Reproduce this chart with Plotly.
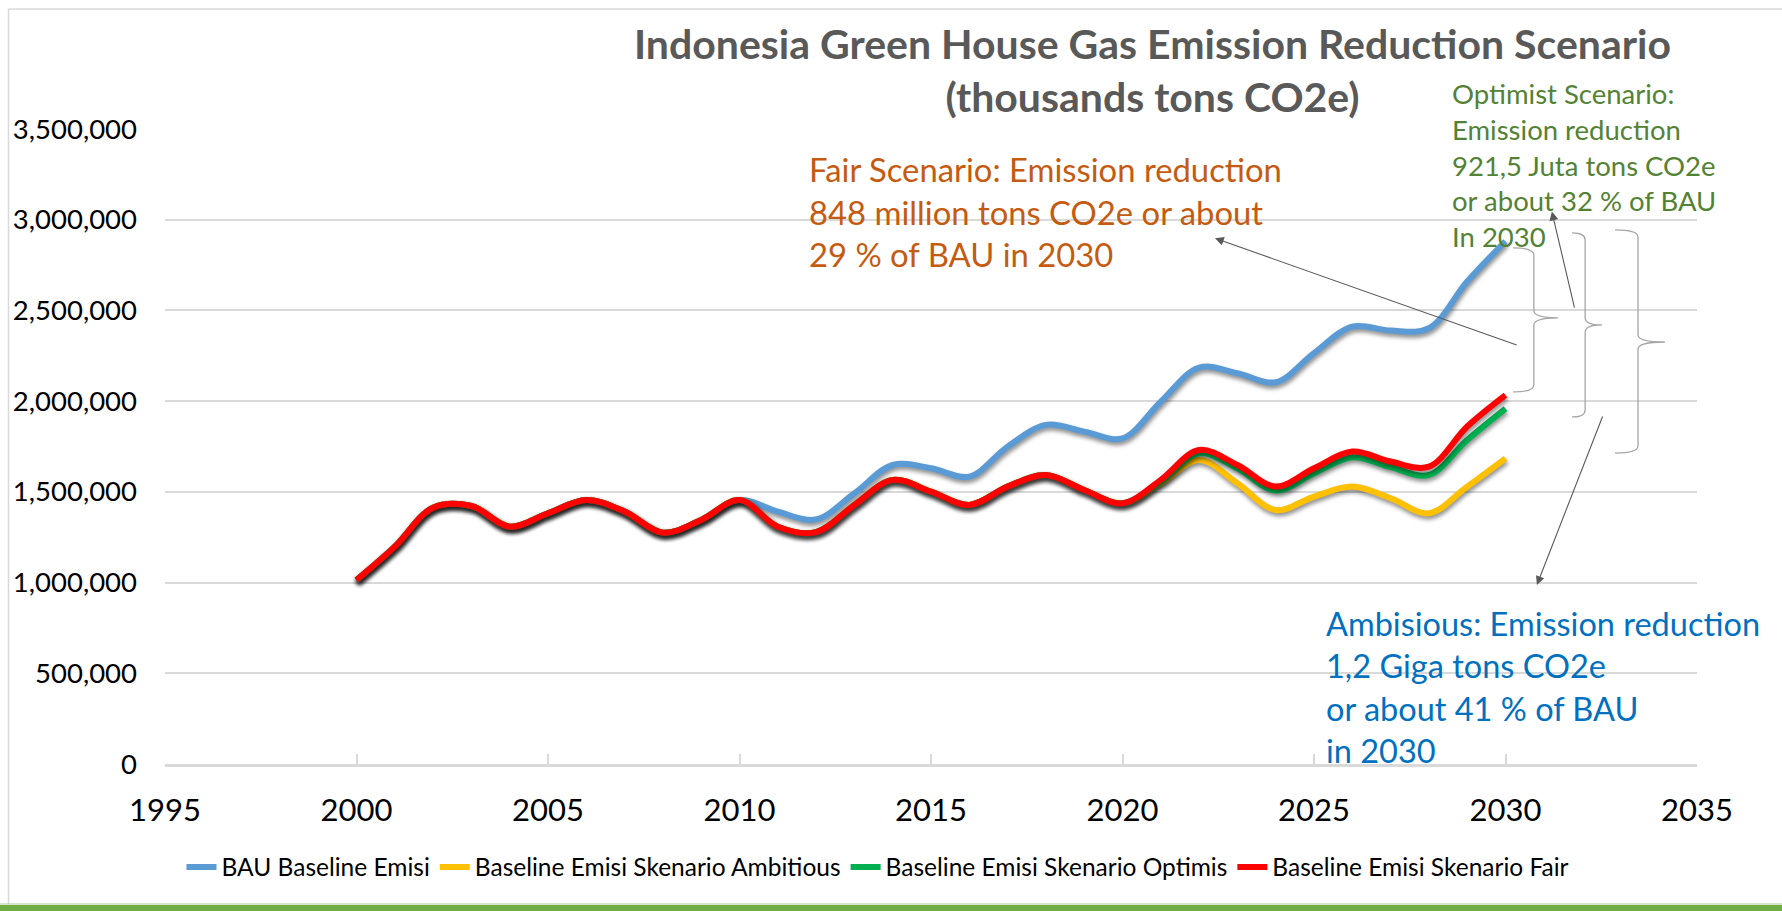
import plotly.graph_objects as go

# ---------------- data (thousands tons CO2e) ----------------
years = list(range(2000, 2031))

bau = [1014000, 1198000, 1413000, 1422000, 1308000, 1382000, 1455000, 1391000,
       1275000, 1345000, 1455000, 1391000, 1348000, 1492000, 1648000, 1630000,
       1584000, 1749000, 1869000, 1832000, 1795000, 1997000, 2185000, 2154000,
       2104000, 2265000, 2411000, 2389000, 2402000, 2659000, 2881000]

ambitious = [1014000, 1198000, 1413000, 1422000, 1308000, 1382000, 1455000, 1391000,
             1275000, 1345000, 1455000, 1308000, 1278000, 1428000, 1566000, 1501000,
             1428000, 1529000, 1593000, 1510000, 1437000, 1548000, 1676000, 1547000,
             1400000, 1474000, 1529000, 1465000, 1382000, 1529000, 1685000]

optimis = [1014000, 1198000, 1413000, 1422000, 1308000, 1382000, 1455000, 1391000,
           1275000, 1345000, 1455000, 1308000, 1278000, 1428000, 1566000, 1501000,
           1428000, 1529000, 1593000, 1510000, 1437000, 1557000, 1713000, 1630000,
           1507000, 1602000, 1691000, 1636000, 1593000, 1786000, 1959000]

fair = [1014000, 1198000, 1413000, 1422000, 1308000, 1382000, 1455000, 1391000,
        1275000, 1345000, 1455000, 1308000, 1278000, 1428000, 1566000, 1501000,
        1428000, 1529000, 1593000, 1510000, 1437000, 1566000, 1731000, 1648000,
        1529000, 1630000, 1722000, 1667000, 1639000, 1860000, 2033000]

series_names = ["BAU Baseline Emisi", "Baseline Emisi Skenario Ambitious",
                "Baseline Emisi Skenario Optimis", "Baseline Emisi Skenario Fair"]
series_values = [bau, ambitious, optimis, fair]
series_colors = ["#5B9BD5", "#FFC000", "#00B050", "#FF0000"]

title_text = "Indonesia Green House Gas Emission Reduction Scenario<br>(thousands tons CO2e)"
x_ticks = [1995, 2000, 2005, 2010, 2015, 2020, 2025, 2030, 2035]
y_ticks = [0, 500000, 1000000, 1500000, 2000000, 2500000, 3000000, 3500000]

FONT = "Lato, 'Open Sans', sans-serif"

# ---------------- figure ----------------
W, H = 1782, 911
ML, MR, MT, MB = 165, 85, 129, 147

fig = go.Figure()
for name, vals, col in zip(series_names, series_values, series_colors):
    fig.add_trace(go.Scatter(
        x=years, y=vals, name=name, mode="lines",
        line=dict(color=col, width=6, shape="spline", smoothing=1),
        hoverinfo="x+y+name"))

# paper-coordinate helpers for decorations outside the plot area
PW, PH = W - ML - MR, H - MT - MB
def px_x(px):
    return (px - ML) / PW
def px_y(py):
    return (H - MB - py) / PH

shapes = []
# chart-area border (left and top) and bottom green band
shapes.append(dict(type="line", xref="paper", yref="paper",
                   x0=px_x(8.5), x1=px_x(8.5), y0=px_y(9), y1=px_y(904),
                   line=dict(color="#D9D9D9", width=1.5), layer="below"))
shapes.append(dict(type="line", xref="paper", yref="paper",
                   x0=px_x(8.5), x1=px_x(W), y0=px_y(9), y1=px_y(9),
                   line=dict(color="#D9D9D9", width=1.5), layer="below"))
shapes.append(dict(type="rect", xref="paper", yref="paper",
                   x0=px_x(0), x1=px_x(W), y0=px_y(911), y1=px_y(905),
                   fillcolor="#70AD47", line=dict(width=0), layer="above"))
shapes.append(dict(type="line", xref="paper", yref="paper",
                   x0=px_x(0), x1=px_x(W), y0=px_y(904), y1=px_y(904),
                   line=dict(color="#A9D08E", width=1), layer="above"))


def brace(x_hook, x_line, x_tip, y_top, y_mid, y_bot, dy=40000):
    return (f"M {x_hook},{y_top} Q {x_line},{y_top} {x_line},{y_top - dy} "
            f"L {x_line},{y_mid + dy} Q {x_line},{y_mid} {x_tip},{y_mid} "
            f"Q {x_line},{y_mid} {x_line},{y_mid - dy} "
            f"L {x_line},{y_bot + dy} Q {x_line},{y_bot} {x_hook},{y_bot}")

braces = [
    (2030.2, 2030.74, 2031.37, 2845000, 2459000, 2051000),
    (2031.74, 2032.08, 2032.52, 2927000, 2420000, 1913000),
    (2032.86, 2033.46, 2034.16, 2944000, 2326000, 1714000),
]
for b in braces:
    shapes.append(dict(type="path", xref="x", yref="y", path=brace(*b),
                       line=dict(color="#A6A6A6", width=1.3)))

annotations = []
# arrows (head at x,y ; tail at ax,ay)
arrows = [
    (2022.415, 2898000, 2030.33, 2306000),
    (2031.21, 3045000, 2031.81, 2507000),
    (2030.82, 987000, 2032.55, 1924000),
]
for hx, hy, tx, ty in arrows:
    annotations.append(dict(x=hx, y=hy, ax=tx, ay=ty, xref="x", yref="y",
                            axref="x", ayref="y", text="", showarrow=True,
                            arrowhead=2, arrowsize=1.6, arrowwidth=1.1,
                            arrowcolor="#595959", standoff=0))

# title (two lines, centred)
annotations.append(dict(
    x=px_x(1152), y=px_y(69.5), xref="paper", yref="paper",
    xanchor="center", yanchor="middle", align="center", showarrow=False,
    text="<b>" + title_text.replace("<br>", "</b><br><b>") + "</b>",
    font=dict(family=FONT, size=41, color="#595959")))

annotations.append(dict(
    x=px_x(807), y=px_y(211.5), xref="paper", yref="paper",
    xanchor="left", yanchor="middle", align="left", showarrow=False,
    text="Fair Scenario: Emission reduction<br>848 million tons CO2e or about<br>29 % of BAU in 2030",
    font=dict(family=FONT, size=32.8, color="#C55A11")))
annotations.append(dict(
    x=px_x(1450), y=px_y(164.5), xref="paper", yref="paper",
    xanchor="left", yanchor="middle", align="left", showarrow=False,
    text="Optimist Scenario:<br>Emission reduction<br>921,5 Juta tons CO2e<br>or about 32 % of BAU<br>In 2030",
    font=dict(family=FONT, size=27.5, color="#548235")))
annotations.append(dict(
    x=px_x(1324), y=px_y(686.5), xref="paper", yref="paper",
    xanchor="left", yanchor="middle", align="left", showarrow=False,
    text="Ambisious: Emission reduction<br>1,2 Giga tons CO2e<br>or about 41 % of BAU<br>in 2030",
    font=dict(family=FONT, size=32.5, color="#0070C0")))

fig.update_layout(
    width=W, height=H, autosize=False,
    margin=dict(l=ML, r=MR, t=MT, b=MB, autoexpand=False),
    paper_bgcolor="white", plot_bgcolor="white",
    font=dict(family=FONT, color="black"),
    showlegend=True,
    legend=dict(orientation="h", x=px_x(878), xanchor="center", y=px_y(867), yanchor="middle",
                font=dict(family=FONT, size=24.5, color="black"), bgcolor="rgba(0,0,0,0)"),
    shapes=shapes, annotations=annotations,
    xaxis=dict(range=[1995, 2035], tickvals=x_ticks, showgrid=False, zeroline=False,
               showline=True, linecolor="#D9D9D9", linewidth=2.5, automargin=False,
               ticks="inside", ticklen=10, tickwidth=1.5, tickcolor="#D9D9D9",
               tickfont=dict(family=FONT, size=31, color="black"), ticklabelstandoff=17),
    yaxis=dict(range=[0, 3500000], tickvals=y_ticks, tickformat=",d", automargin=False,
               showgrid=True, gridcolor="#D9D9D9", gridwidth=1.5, zeroline=False,
               showline=False, ticks="",
               tickfont=dict(family=FONT, size=27.5, color="black"), ticklabelstandoff=27),
)

post_js = ("document.body.style.margin='0';"
           "document.querySelectorAll('.scatterlayer .js-line').forEach(function(p){"
           "p.style.filter='drop-shadow(1px 3px 2px rgba(0,0,0,0.45))';});")

fig.write_html("out.html", post_script=post_js, config={"displayModeBar": False})
